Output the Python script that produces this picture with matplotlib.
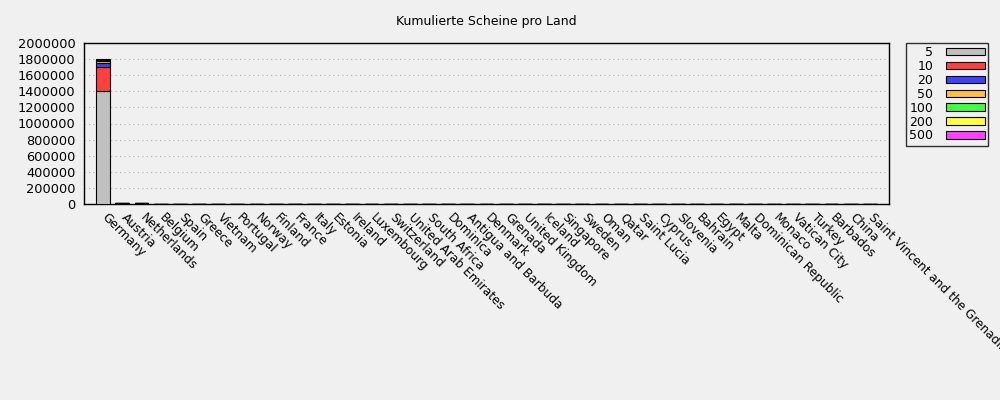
import matplotlib
matplotlib.use('Agg')
import matplotlib.pyplot as plt
import matplotlib.transforms as mtransforms
import numpy as np

countries = ["Germany", "Austria", "Netherlands", "Belgium", "Spain", "Greece", "Vietnam",
             "Portugal", "Norway", "Finland", "France", "Italy", "Estonia", "Ireland",
             "Luxembourg", "Switzerland", "United Arab Emirates", "South Africa", "Dominica",
             "Antigua and Barbuda", "Denmark", "Grenada", "United Kingdom", "Iceland",
             "Singapore", "Sweden", "Oman", "Qatar", "Saint Lucia", "Cyprus", "Slovenia",
             "Bahrain", "Egypt", "Malta", "Dominican Republic", "Monaco", "Vatican City",
             "Turkey", "Barbados", "China", "Saint Vincent and the Grenadines"]

denominations = ["5", "10", "20", "50", "100", "200", "500"]

# counts per denomination, one value per country
notes_5 = [1400000, 10000, 10000] + [300] * 38
notes_10 = [300000, 4000, 4000] + [300] * 38
notes_20 = [50000, 1500, 1500] + [200] * 38
notes_50 = [30000, 800, 800] + [100] * 38
notes_100 = [4000, 200, 200] + [50] * 38
notes_200 = [4000, 200, 200] + [50] * 38
notes_500 = [10000, 300, 300] + [50] * 38

series = [notes_5, notes_10, notes_20, notes_50, notes_100, notes_200, notes_500]
colors = ['#c0c0c0', '#ff4040', '#4040ff', '#ffc040', '#40ff40', '#ffff40', '#ff40ff']

bg = '#f0f0f0'
fig = plt.figure(figsize=(10, 4), dpi=100, facecolor=bg)
ax = fig.add_axes([0.084, 0.49, 0.805, 0.4025], facecolor=bg)

x = np.arange(len(countries))
bottom = np.zeros(len(countries))
for label, vals, col in zip(denominations, series, colors):
  vals = np.array(vals, dtype=float)
  ax.bar(x, vals, width=0.73, bottom=bottom, color=col, edgecolor='black',
         linewidth=0.8, label=label, zorder=3)
  bottom += vals

ax.set_xlim(-1, len(countries))
ax.set_ylim(0, 2000000)
ax.set_yticks(np.arange(0, 2000001, 200000))
ax.ticklabel_format(style='plain', axis='y')
ax.yaxis.grid(True, linestyle=(0, (1, 3)), color='#b0b0b0', linewidth=0.8, zorder=0)

ax.set_xticks(x)
ax.set_xticklabels(countries, rotation=-45, ha='left', va='top', rotation_mode='anchor',
                   fontsize=8.7)
ax.tick_params(axis='x', length=0, pad=5)
ax.tick_params(axis='y', labelsize=9.3, direction='in', length=0, pad=6)
shift = mtransforms.ScaledTranslation(4 / 72, 0, fig.dpi_scale_trans)
for lbl in ax.get_xticklabels():
  lbl.set_transform(lbl.get_transform() + shift)
for s in ax.spines.values():
  s.set_linewidth(1)
  s.set_color('black')

fig.text(0.486, 0.945, 'Kumulierte Scheine pro Land', ha='center', va='center', fontsize=9)

leg = fig.legend(loc='upper left', bbox_to_anchor=(0.906, 0.8925), markerfirst=False,
                 frameon=True, fancybox=False, fontsize=9, handlelength=3.1,
                 handleheight=0.55, labelspacing=0.07, borderpad=0.25, handletextpad=1.05,
                 borderaxespad=0)
leg.get_frame().set_edgecolor('black')
leg.get_frame().set_facecolor(bg)
leg.get_frame().set_linewidth(1)
for t in leg.get_texts():
  t.set_ha('right')

fig.savefig('out.png', dpi=100, facecolor=bg)
